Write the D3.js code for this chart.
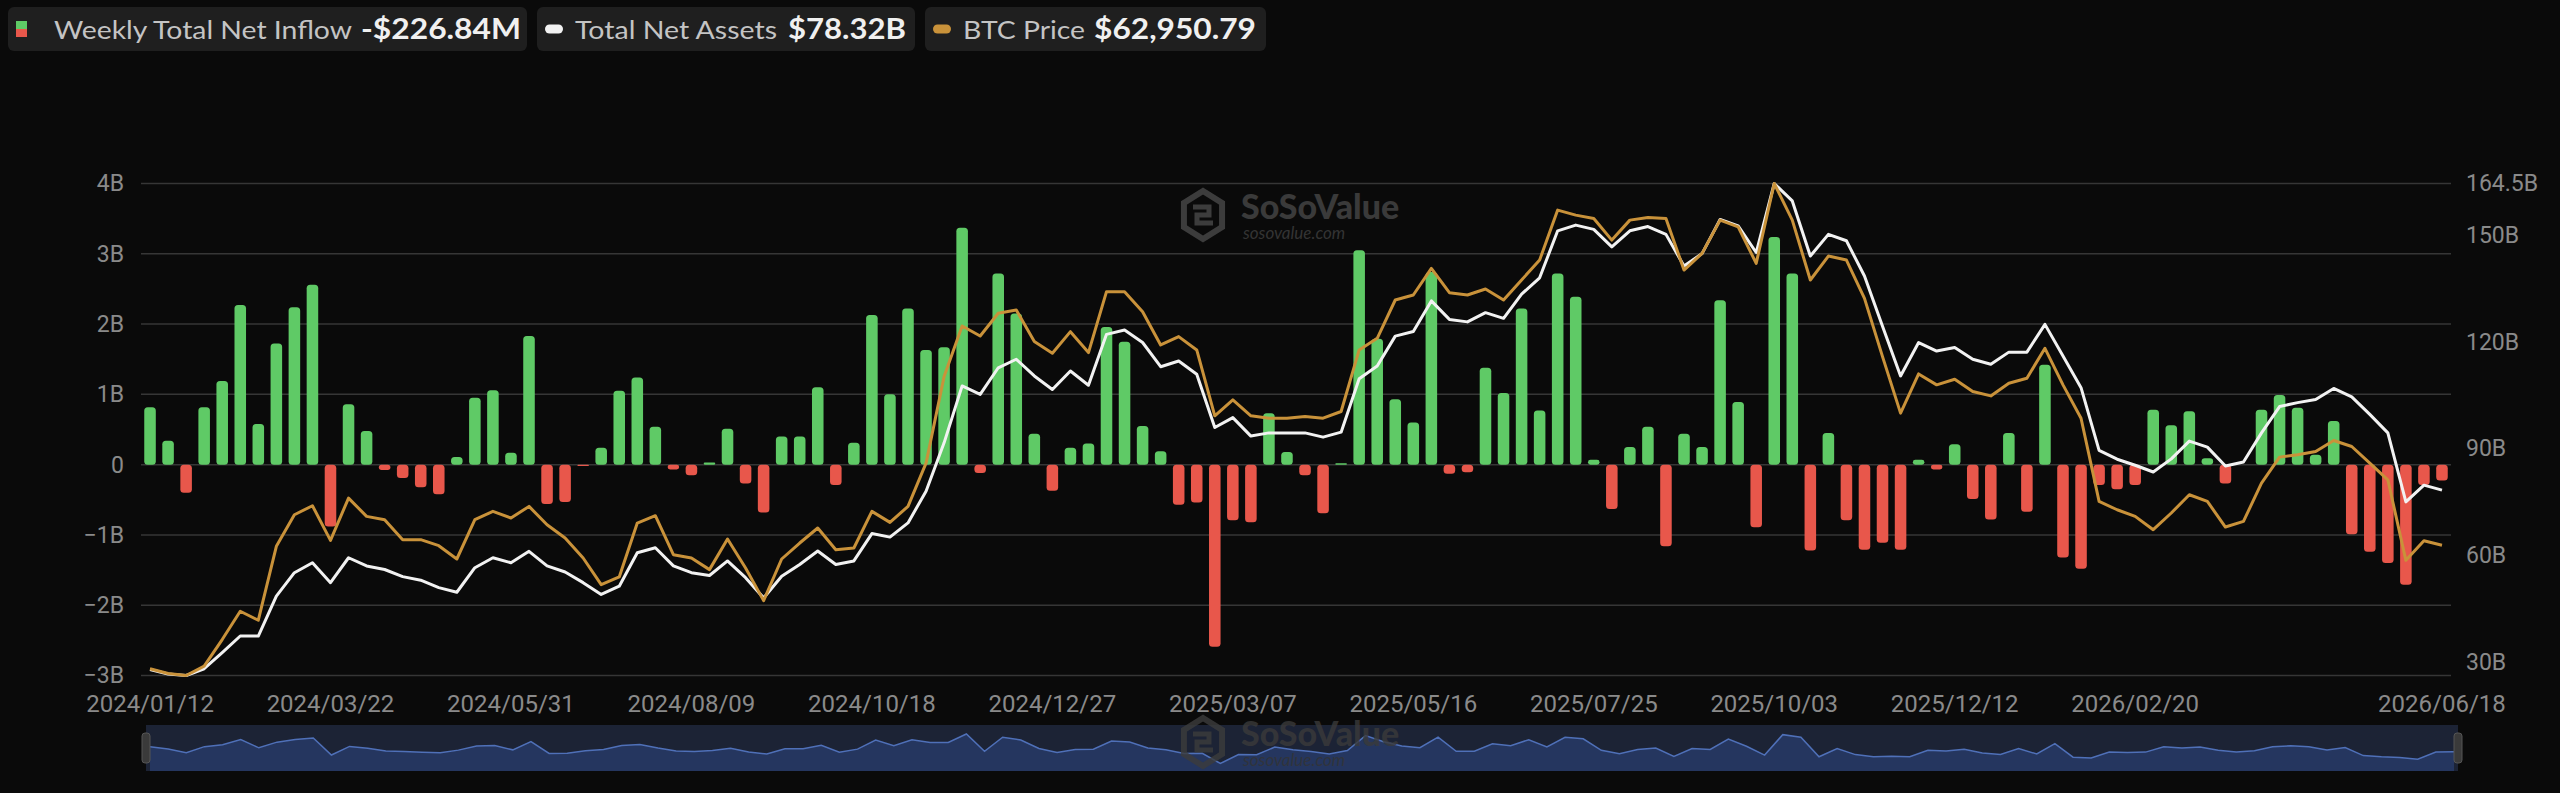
<!DOCTYPE html>
<html><head><meta charset="utf-8">
<script src="https://cdn.jsdelivr.net/npm/d3@7/dist/d3.min.js"></script>
<style>
html,body{margin:0;padding:0;background:#0a0a0a;}
svg{display:block;}
</style></head><body>
<svg id="chart" width="2560" height="793"></svg>
<script>
// ---------- DATA ----------
const startDate = "2024-01-12";
const lastDate = "2026-06-18";
const weeklyCount = 127; // weekly points before the latest partial week

const tickLabels = ["2024/01/12","2024/03/22","2024/05/31","2024/08/09","2024/10/18","2024/12/27",
  "2025/03/07","2025/05/16","2025/07/25","2025/10/03","2025/12/12","2026/02/20","2026/06/18"];

const leftTicks = [-3,-2,-1,0,1,2,3,4];
const rightTicks = [30,60,90,120,150,164.5];

// Weekly Total Net Inflow (billion USD)
const inflow = [0.815,0.34,-0.40,0.815,1.19,2.27,0.58,1.725,2.24,2.56,
  -0.88,0.86,0.48,-0.076,-0.19,-0.32,-0.42,0.11,0.95,1.06,
  0.17,1.83,-0.56,-0.53,-0.02,0.24,1.05,1.24,0.54,-0.07,
  -0.15,0.03,0.51,-0.27,-0.68,0.40,0.40,1.10,-0.29,0.31,
  2.13,1.00,2.22,1.63,1.67,3.37,-0.12,2.72,2.15,0.44,
  -0.37,0.24,0.30,1.96,1.75,0.55,0.19,-0.57,-0.54,-2.59,
  -0.79,-0.82,0.73,0.18,-0.15,-0.69,0.02,3.05,1.79,0.93,
  0.60,2.74,-0.13,-0.11,1.38,1.02,2.22,0.77,2.72,2.39,
  0.07,-0.63,0.25,0.54,-1.16,0.44,0.25,2.34,0.89,-0.89,
  3.24,2.72,-1.22,0.45,-0.79,-1.21,-1.11,-1.21,0.07,-0.07,
  0.29,-0.49,-0.78,0.45,-0.67,1.42,-1.32,-1.48,-0.29,-0.35,
  -0.29,0.78,0.56,0.76,0.09,-0.27,0,0.78,0.99,0.81,
  0.14,0.62,-0.99,-1.24,-1.40,-1.71,-0.29,-0.22684];

// Total Net Assets (billion USD)
const netAssets = [27.9,26.6,26.2,28.1,32.6,37.3,37.3,48.5,55.1,57.9,
  52.3,59.3,57.0,56.0,54.0,53.0,50.9,49.6,56.5,59.3,
  57.9,61.1,57.0,55.3,52.3,49.0,51.3,60.7,62.1,57.0,
  55.1,54.3,58.4,53.7,48.0,54.1,57.4,61.2,57.4,58.4,
  66.1,65.1,69.1,78.0,91.6,107.6,105.2,112.7,115.1,110.4,
  106.6,111.8,107.8,122.1,123.3,119.8,113.0,114.6,110.9,95.9,
  98.7,93.5,94.4,94.4,94.4,93.2,94.6,109.6,113.2,121.6,
  122.9,131.5,126.3,125.6,128.2,126.6,133.4,138.0,151.2,152.8,
  151.6,146.7,151.2,152.4,150.2,141.3,144.8,154.4,152.6,145.1,
  164.5,159.6,144.1,150.2,148.4,138.5,124.4,110.4,119.8,117.4,
  118.4,115.1,113.7,117.1,117.1,124.9,116.0,107.1,89.5,87.0,
  85.3,83.4,87.1,92.1,90.4,85.1,86.2,94.4,101.8,102.9,
  103.8,106.9,104.5,99.6,94.4,75.0,79.7,78.32];

// BTC Price (USD)
const btcPrice = [42600,41830,41500,43030,47420,52080,50600,62760,67970,69450,
  63750,70710,67700,67150,63860,63860,62870,60680,67150,68520,
  67420,69340,66330,64130,60840,56460,57720,66600,67810,61390,
  60840,58930,63970,59200,53830,60680,63310,65780,62210,62490,
  68520,66710,69340,76470,90710,99050,97400,101130,101670,96470,
  94550,98110,94660,104690,104690,101400,95920,97290,95100,84250,
  86880,84250,83860,83860,84140,83860,84960,95100,97020,103320,
  104140,108520,104520,104140,105130,103320,106610,109900,118120,117290,
  116750,113180,116470,116910,116750,108250,111000,116470,115370,109350,
  122500,116470,106610,110550,109900,103590,94000,84690,91150,89350,
  90280,88250,87530,89620,90440,95370,89350,83860,70160,68790,
  67700,65500,68250,71260,70160,65940,66870,73180,77450,77830,
  78380,80190,79200,76470,73720,60460,63690,62950.79];

// ---------- CATEGORIES ----------
const fmtDate = d3.timeFormat("%Y/%m/%d");
const parse = d3.timeParse("%Y-%m-%d");
const categories = d3.range(weeklyCount).map(i => fmtDate(d3.timeDay.offset(parse(startDate), 7*i)));
categories.push(fmtDate(parse(lastDate)));

// ---------- LAYOUT ----------
const svg = d3.select("#chart");
const W = 2560, H = 793;
const plot = {left:141, right:2451, top:183.5, bottom:675.5};
const COLORS = {bg:"#0a0a0a", grid:"#363636", label:"#8a8a8a", green:"#5fca66", red:"#e8574b",
  white:"#f2f2f2", gold:"#c9923a", box:"#1f1f1f"};

svg.append("rect").attr("width",W).attr("height",H).attr("fill",COLORS.bg);

const x = d3.scaleBand().domain(categories).range([plot.left, plot.right]).paddingInner(0.36).paddingOuter(0.18);
const bw = x.bandwidth();
const cx = c => x(c) + bw/2;
const yL = d3.scaleLinear().domain([-3,4]).range([plot.bottom, plot.top]);
const yR = d3.scaleLinear().domain(d3.extent(netAssets)).range([plot.bottom, plot.top]);
const yP = d3.scaleLinear().domain(d3.extent(btcPrice)).range([plot.bottom, plot.top]);

// ---------- WATERMARK ----------
function watermark(g, x0, y0, op){
  const wm = g.append("g").attr("transform",`translate(${x0},${y0})`).attr("opacity",op);
  const hex = d3.range(6).map(k => {const a = Math.PI/3*k - Math.PI/2; return [22*Math.cos(a), 24*Math.sin(a)];});
  wm.append("path").attr("d","M"+hex.join("L")+"Z").attr("fill","none").attr("stroke","#3c3c3c").attr("stroke-width",6);
  wm.append("path").attr("d","M-10,-8 L6,-8 L6,0 L-6,0 L-6,8 L10,8").attr("fill","none").attr("stroke","#3c3c3c").attr("stroke-width",5);
  wm.append("text").attr("x",38).attr("y",4).attr("font-family","Lato, sans-serif").attr("font-weight",900)
    .attr("font-size",34).attr("fill","#3a3a3a").text("SoSoValue");
  wm.append("text").attr("x",40).attr("y",24).attr("font-family","Lato, sans-serif").attr("font-style","italic")
    .attr("font-size",17).attr("fill","#343434").text("sosovalue.com");
}

// ---------- GRID ----------
svg.append("g").selectAll("line").data(leftTicks).join("line")
  .attr("x1",plot.left).attr("x2",plot.right)
  .attr("y1",d=>yL(d)).attr("y2",d=>yL(d))
  .attr("stroke",COLORS.grid).attr("stroke-width",1.5);

watermark(svg, 1203, 215, 1);

// ---------- AXES ----------
const fmtLeft = v => v === 0 ? "0" : (v < 0 ? "\u2212" : "") + Math.abs(v) + "B";
const gl = svg.append("g").attr("transform",`translate(${plot.left},0)`)
  .call(d3.axisLeft(yL).tickValues(leftTicks).tickFormat(fmtLeft).tickSize(0).tickPadding(17));
const gr = svg.append("g").attr("transform",`translate(${plot.right},0)`)
  .call(d3.axisRight(yR).tickValues(rightTicks).tickFormat(d=>d+"B").tickSize(0).tickPadding(15));
const gb = svg.append("g").attr("transform",`translate(0,${plot.bottom})`)
  .call(d3.axisBottom(x).tickValues(tickLabels).tickSize(0).tickPadding(19));
[gl,gr,gb].forEach(g => {
  g.select(".domain").remove();
  g.selectAll("text").attr("fill",COLORS.label).attr("font-family","Roboto, sans-serif").attr("font-size",23);
});
gb.selectAll("text").attr("font-size",24);

// ---------- BARS ----------
svg.append("g").selectAll("rect").data(categories).join("rect")
  .attr("x", c => x(c))
  .attr("width", bw)
  .attr("y", (c,i) => yL(Math.max(0, inflow[i])))
  .attr("height", (c,i) => Math.abs(yL(inflow[i]) - yL(0)))
  .attr("rx", (c,i) => Math.min(3.5, Math.abs(yL(inflow[i]) - yL(0))/2))
  .attr("fill", (c,i) => inflow[i] >= 0 ? COLORS.green : COLORS.red);

// ---------- LINES ----------
const lineNA = d3.line().x((d,i)=>cx(categories[i])).y(d=>yR(d));
const lineP = d3.line().x((d,i)=>cx(categories[i])).y(d=>yP(d));
svg.append("path").datum(netAssets).attr("d",lineNA).attr("fill","none")
  .attr("stroke",COLORS.white).attr("stroke-width",3).attr("stroke-linejoin","round");
svg.append("path").datum(btcPrice).attr("d",lineP).attr("fill","none")
  .attr("stroke",COLORS.gold).attr("stroke-width",3).attr("stroke-linejoin","round");

// ---------- SLIDER (data zoom) ----------
const slider = {left:146, right:2458, top:725, bottom:771};
const sg = svg.append("g");
sg.append("rect").attr("x",slider.left).attr("y",slider.top).attr("width",slider.right-slider.left)
  .attr("height",slider.bottom-slider.top).attr("fill","#1c2335");
const sx = d3.scaleLinear().domain([0, categories.length-1]).range([slider.left+4, slider.right-4]);
const sy = d3.scaleLinear().domain(d3.extent(inflow)).range([763.5, 734]);
sg.append("path").datum(inflow)
  .attr("d", d3.area().x((d,i)=>sx(i)).y0(slider.bottom).y1(d=>sy(d)))
  .attr("fill","#25365f");
sg.append("path").datum(inflow)
  .attr("d", d3.line().x((d,i)=>sx(i)).y(d=>sy(d)))
  .attr("fill","none").attr("stroke","#4f70b8").attr("stroke-width",1.5);
[slider.left, slider.right].forEach(hx => {
  sg.append("rect").attr("x",hx-4).attr("y",733).attr("width",8).attr("height",30).attr("rx",3)
    .attr("fill","#3a3a3a").attr("stroke","#555").attr("stroke-width",1);
});
watermark(sg, 1203, 742, 0.8);

// ---------- LEGEND ----------
const fmtInflow = v => (v<0?"-":"") + "$" + d3.format(",.2f")(Math.abs(v)*1000) + "M";
const legendItems = [
  {x0:8, x1:527, label:"Weekly Total Net Inflow", value: fmtInflow(inflow[inflow.length-1]), icon:"split",
    lx:54, lw:298, vx:361, vw:160},
  {x0:537, x1:915, label:"Total Net Assets", value:"$" + d3.format(".2f")(netAssets[netAssets.length-1]) + "B", icon:COLORS.white,
    lx:575, lw:202, vx:788, vw:118},
  {x0:925, x1:1266, label:"BTC Price", value:"$" + d3.format(",.2f")(btcPrice[btcPrice.length-1]), icon:COLORS.gold,
    lx:963, lw:122, vx:1094, vw:162}
];
const lg = svg.append("g");
legendItems.forEach(it => {
  lg.append("rect").attr("x",it.x0).attr("y",7).attr("width",it.x1-it.x0).attr("height",44).attr("rx",6).attr("fill",COLORS.box);
  if (it.icon === "split") {
    lg.append("rect").attr("x",16).attr("y",21).attr("width",11).attr("height",8).attr("fill",COLORS.green);
    lg.append("rect").attr("x",16).attr("y",29).attr("width",11).attr("height",8).attr("fill",COLORS.red);
  } else {
    lg.append("rect").attr("x",it.x0+8).attr("y",24.5).attr("width",18).attr("height",9).attr("rx",4.5).attr("fill",it.icon);
  }
  lg.append("text").attr("x",it.lx).attr("y",38.5).attr("font-family","Lato, sans-serif").attr("font-size",25.5)
    .attr("textLength",it.lw).attr("lengthAdjust","spacingAndGlyphs")
    .attr("fill","#c4c4c4").text(it.label);
  lg.append("text").attr("x",it.vx).attr("y",38.5).attr("font-family","Lato, sans-serif")
    .attr("textLength",it.vw).attr("lengthAdjust","spacingAndGlyphs")
    .attr("font-weight",700).attr("font-size",28).attr("fill","#f0f0f0").text(it.value);
});
</script>
</body></html>
